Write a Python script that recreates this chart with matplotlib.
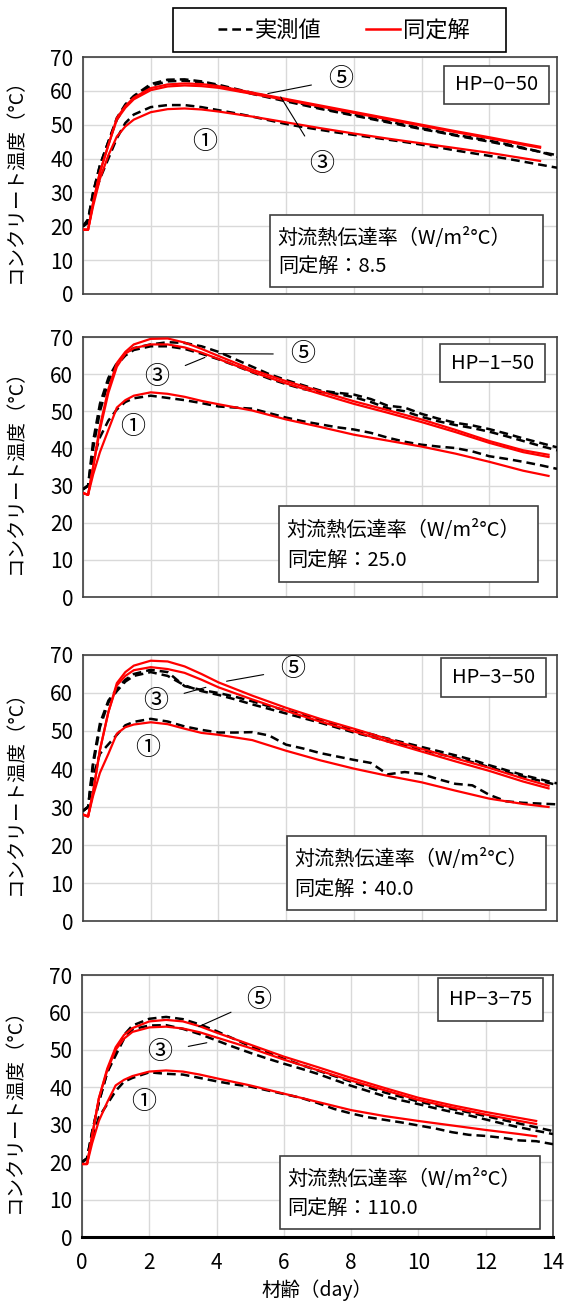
import matplotlib
matplotlib.use("Agg")
import matplotlib.pyplot as plt
from matplotlib.lines import Line2D
from matplotlib.patches import Rectangle

plt.rcParams['font.family'] = ['Noto Sans CJK JP', 'DejaVu Sans']

# 時間軸（日）
sim_days_a = [0, 0.15, 0.3, 0.5, 0.75, 1, 1.25, 1.5, 2, 2.5, 3, 3.5, 4, 5, 6, 7, 8, 9, 10, 11, 12, 13, 13.5]
sim_days_b = [0, 0.15, 0.3, 0.5, 0.75, 1, 1.25, 1.5, 2, 2.5, 3, 3.5, 4, 5, 6, 7, 8, 9, 10, 11, 12, 13, 13.75]
meas_days = [0, 0.15, 0.3, 0.5, 0.75, 1, 1.25, 1.5, 2, 2.5, 3, 3.5, 4, 4.5, 5, 5.5, 6, 6.5, 7,
             7.5, 8, 8.5, 9, 9.5, 10, 10.5, 11, 11.5, 12, 12.5, 13, 13.5, 14]

# HP-0-50
p1_sim5 = [19, 19, 27, 36, 44, 52, 55.5, 58, 60.8, 61.9, 62.2, 62.0, 61.4, 59.5, 57.6, 55.7, 53.8, 51.9, 50.0, 48.1, 46.3, 44.4, 43.5]
p1_sim3 = [19, 19, 27, 36, 44, 51.5, 55, 57.5, 60.2, 61.3, 61.6, 61.4, 60.9, 59.1, 57.3, 55.4, 53.5, 51.6, 49.7, 47.8, 46.0, 44.1, 43.2]
p1_sim1 = [19, 19, 26, 34, 41, 46.5, 49.5, 51.5, 53.7, 54.6, 54.8, 54.5, 53.9, 52.4, 50.7, 49.0, 47.4, 45.9, 44.5, 43.1, 41.7, 40.1, 39.3]
p1_meas5 = [20, 22, 30, 38, 45, 52, 56, 58.5, 62, 63.3, 63.4, 62.8, 61.8, 60.6, 59.4, 58.3, 57.2, 56.1, 55, 54,
            53, 52, 51, 50, 49, 48, 47, 46.2, 45.3, 44.3, 43.2, 42, 40.5]
p1_meas3 = [20, 22, 30, 38, 45, 51.5, 55.5, 58, 61.5, 62.8, 63, 62.4, 61.5, 60.3, 59.1, 58, 56.9, 55.8, 54.7, 53.7,
            52.7, 51.7, 50.7, 49.7, 48.7, 47.8, 46.8, 45.9, 45, 44, 43, 42, 41]
p1_meas1 = [20, 21, 28, 34, 40, 46, 50.5, 53, 55.2, 55.8, 55.8, 55.2, 54.3, 53.4, 52.4, 51.3, 50.2, 49.3, 48.5, 47.7,
            47, 46.3, 45.6, 44.9, 44.1, 43.3, 42.4, 41.6, 40.8, 40, 39.1, 38.2, 37.3]

# HP-1-50
p2_sim5 = [28, 27.5, 35, 46, 56, 63, 66, 68, 69.5, 69.6, 68.5, 66.8, 64.9, 61.2, 58.1, 55.4, 52.7, 50.3, 47.8, 45.0, 42.0, 39.5, 38.3]
p2_sim3 = [28, 27.5, 35, 45, 55, 62, 65.5, 67, 68, 68, 67.2, 65.8, 64.1, 60.6, 57.5, 54.7, 52.0, 49.6, 47.1, 44.4, 41.5, 39.0, 37.7]
p2_sim1 = [28, 27.5, 33, 39, 45, 51, 53, 54.2, 55.1, 54.7, 53.9, 52.8, 51.9, 50.2, 47.8, 45.8, 43.7, 42.1, 40.5, 38.6, 36.4, 34.0, 32.6]
p2_meas5 = [29, 30, 42, 52, 59, 63, 65.5, 67, 68, 68.6, 68.4, 67.5, 66, 64, 62, 60, 58.4, 57, 55.6, 55,
            54.5, 53.3, 51.5, 51, 49.3, 48, 46.9, 46.2, 45.2, 44, 42.7, 41.5, 40.3]
p2_meas3 = [29, 30, 40, 50, 58, 62.5, 65, 66.5, 67.5, 67.5, 66.8, 65.5, 64, 62.3, 60.5, 58.8, 57.3, 56, 55.2, 54.7,
            53.8, 52.5, 50.8, 50, 48.5, 47.3, 46.3, 45.5, 44.5, 43.3, 42, 40.7, 39.5]
p2_meas1 = [29, 30, 37, 43, 47.5, 50.5, 52.5, 53.5, 54.2, 53.6, 53, 52.2, 51.3, 51, 50.7, 49.5, 48.3, 47.3, 46.5, 45.7,
            45.1, 44.2, 42.9, 41.8, 41, 40.5, 40.1, 39.2, 37.9, 37.2, 36.4, 35.5, 34.5]

# HP-3-50
p3_sim5 = [28, 27.5, 34, 45, 55, 62.6, 65.5, 67.2, 68.5, 68.3, 67, 65, 62.8, 59.3, 56.1, 53.2, 50.6, 47.9, 45.3, 42.8, 40.3, 37.5, 35.6]
p3_sim3 = [28, 27.5, 34, 45, 55, 62, 64.5, 66, 66.8, 66.3, 65.3, 63.5, 61.5, 58.3, 55.3, 52.5, 49.9, 47.2, 44.6, 42.0, 39.5, 36.7, 34.9]
p3_sim1 = [28, 27.5, 33, 39, 44, 49.3, 51, 51.7, 52.3, 51.8, 50.6, 49.5, 49.0, 47.6, 44.8, 42.3, 40.1, 38.2, 36.5, 34.3, 32.2, 30.8, 30.0]
p3_meas5 = [29, 30, 42, 52, 58, 61, 63.5, 65, 66.1, 65.5, 61.8, 60.8, 60, 59, 57.8, 56.5, 55.4, 54.2, 53, 51.6,
            50.3, 49.2, 48, 46.9, 45.8, 44.7, 43.6, 42.4, 41, 39.7, 38.4, 37.3, 36.2]
p3_meas3 = [29, 30, 41, 51, 57.5, 60.5, 63, 64.5, 65.5, 64.5, 62, 60.5, 59.5, 58.3, 57, 55.8, 54.6, 53.4, 52.2, 50.9,
            49.6, 48.5, 47.3, 46.2, 45.1, 44, 43, 41.8, 40.5, 39.2, 38, 36.9, 35.8]
p3_meas1 = [29, 30, 38, 44, 46.5, 49, 51.5, 52.4, 53.2, 52.5, 51.2, 50.3, 49.6, 49.6, 49.7, 48.8, 46.4, 45.4, 44.2, 43.3,
            42.4, 41.6, 38.6, 39.2, 38.7, 37.3, 36.1, 35.7, 33.2, 31.5, 31.1, 30.9, 30.7]

# HP-3-75
p4_sim5 = [19.5, 19.5, 27, 37, 45, 50.7, 54, 55.8, 57.6, 58, 57.6, 56.3, 54.6, 51.4, 48.2, 45.4, 42.5, 39.8, 37.2, 35.2, 33.4, 31.8, 31.0]
p4_sim3 = [19.5, 19.5, 27, 37, 44.5, 50, 53, 54.8, 56, 56.2, 55.7, 54.7, 53.3, 50.5, 47.4, 44.6, 41.8, 39.2, 36.6, 34.6, 32.7, 31.0, 30.2]
p4_sim1 = [19.5, 19.5, 25, 31, 36, 40.5, 42, 43, 44.2, 44.5, 44.2, 43.4, 42.4, 40.5, 38.3, 36.1, 33.9, 32.3, 31.0, 29.8, 28.6, 27.5, 26.9]
p4_meas5 = [20, 21, 28, 36, 44, 49.5, 54, 56.5, 58.3, 58.8, 58.2, 56.8, 55, 53, 51, 49.3, 47.6, 46, 44.5, 43,
            41.5, 40, 38.6, 37.4, 36.2, 35.2, 34.2, 33.3, 32.3, 31.3, 30.3, 29.3, 28.3]
p4_meas3 = [20, 21, 28, 36, 44, 48.5, 53, 55.5, 56.5, 56.6, 55.6, 54.2, 52.5, 50.8, 49.2, 47.7, 46.3, 45, 43.6, 42,
            40.4, 39, 37.6, 36.5, 35.5, 34.4, 33.4, 32.5, 31.4, 30.3, 29.3, 28.4, 27.5]
p4_meas1 = [20, 21, 26, 32, 35.5, 39, 41.5, 42.5, 44, 43.6, 43.4, 42.5, 41.6, 40.8, 40.2, 39.2, 38.2, 37.2, 35.8, 34.2,
            33, 32, 31.3, 30.6, 29.8, 29, 28, 27.3, 27, 26.5, 25.8, 25.6, 24.8]

panel_names = ['HP−0−50', 'HP−1−50', 'HP−3−50', 'HP−3−75']
h_values = ['8.5', '25.0', '40.0', '110.0']
y_ticks = [0, 10, 20, 30, 40, 50, 60, 70]
x_ticks = [0, 2, 4, 6, 8, 10, 12, 14]

W, H = 572, 1302
fig = plt.figure(figsize=(W / 100, H / 100), dpi=100)

# 各パネルの配置（ピクセル）: left, right, top, bottom
frames = [(83, 557, 57, 294), (83, 557, 337, 597), (83, 557, 655, 921), (82, 553, 975, 1237)]
name_boxes = [(0.762, 0.983, 0.802, 0.962), (0.753, 0.975, 0.827, 0.973),
              (0.755, 0.977, 0.842, 0.989), (0.756, 0.979, 0.824, 0.989)]
info_boxes = [(0.395, 0.970, 0.030, 0.333), (0.414, 0.960, 0.058, 0.350),
              (0.430, 0.977, 0.041, 0.320), (0.420, 0.972, 0.031, 0.309)]
labels_pos = [
    [((7.6, 63.4), (5.46, 59.2)), ((7.05, 38.5), (5.84, 58.2)), ((3.6, 44.9), None)],
    [((6.48, 65.4), (4.0, 65.5)), ((2.19, 59.2), (3.6, 64.5)), ((1.47, 45.8), None)],
    [((6.19, 66.2), (4.24, 63.1)), ((2.14, 57.8), (3.63, 61.5)), ((1.9, 45.6), None)],
    [((5.26, 63.4), (3.47, 56.2)), ((2.3, 49.4), (3.71, 51.9)), ((1.84, 36.2), None)],
]

panels = [
    (sim_days_a, [p1_sim5, p1_sim3, p1_sim1], [p1_meas5, p1_meas3, p1_meas1]),
    (sim_days_b, [p2_sim5, p2_sim3, p2_sim1], [p2_meas5, p2_meas3, p2_meas1]),
    (sim_days_b, [p3_sim5, p3_sim3, p3_sim1], [p3_meas5, p3_meas3, p3_meas1]),
    (sim_days_a, [p4_sim5, p4_sim3, p4_sim1], [p4_meas5, p4_meas3, p4_meas1]),
]

for i, (sdays, sims, meas) in enumerate(panels):
    l, r, t, b = frames[i]
    ax = fig.add_axes([l / W, 1 - b / H, (r - l) / W, (b - t) / H])
    for m in meas:
        ax.plot(meas_days, m, color='black', lw=1.8, ls=(0, (3.5, 2)), zorder=3)
    for s in sims:
        ax.plot(sdays, s, color='#ff0000', lw=1.6, zorder=4)

    ax.set_xlim(0, 14)
    ax.set_ylim(0, 70)
    ax.set_xticks(x_ticks)
    ax.set_yticks(y_ticks)
    ax.grid(True, color='#d9d9d9', lw=1)
    ax.set_axisbelow(True)
    ax.tick_params(length=0, labelsize=15, pad=7)
    for sp in ax.spines.values():
        sp.set_color('#404040')
        sp.set_linewidth(1.2)
    if i < 3:
        ax.set_xticklabels([])
    else:
        ax.spines['bottom'].set_color('black')
        ax.spines['bottom'].set_linewidth(2.2)
        ax.tick_params(axis='x', pad=11)
        ax.set_xlabel('材齢（day）', fontsize=14, labelpad=4)
    ax.set_ylabel('コンクリート温度（°C）', fontsize=14)
    ax.yaxis.set_label_coords(-0.12, 0.5)

    # 試験体名
    x0, x1, y0, y1 = name_boxes[i]
    ax.add_patch(Rectangle((x0, y0), x1 - x0, y1 - y0, transform=ax.transAxes,
                           facecolor='white', edgecolor='#404040', lw=1.2, zorder=6))
    ax.text((x0 + x1) / 2, (y0 + y1) / 2, panel_names[i], transform=ax.transAxes,
            ha='center', va='center', fontsize=14.5, zorder=7)

    # 対流熱伝達率
    x0, x1, y0, y1 = info_boxes[i]
    ax.add_patch(Rectangle((x0, y0), x1 - x0, y1 - y0, transform=ax.transAxes,
                           facecolor='white', edgecolor='#404040', lw=1.2, zorder=6))
    ax.text(x0 + 0.016, y1 - 0.32 * (y1 - y0), '対流熱伝達率（W/m²°C）', transform=ax.transAxes,
            ha='left', va='center', fontsize=14.5, zorder=7)
    ax.text(x0 + 0.016, y1 - 0.72 * (y1 - y0), '同定解：' + h_values[i], transform=ax.transAxes,
            ha='left', va='center', fontsize=14.5, zorder=7)

    # 位置番号
    for lab, ((tx, ty), xy) in zip(['⑤', '③', '①'], labels_pos[i]):
        if xy is None:
            ax.text(tx, ty, lab, ha='center', va='center', fontsize=18, zorder=8)
        else:
            ax.annotate(lab, xy=xy, xytext=(tx, ty), ha='center', va='center', fontsize=18,
                        arrowprops=dict(arrowstyle='-', color='black', lw=0.8, shrinkA=10, shrinkB=0),
                        zorder=8)

# 凡例（枠は別に描く）
fig.patches.append(Rectangle((173 / W, 1 - 52 / H), 333 / W, 44 / H, transform=fig.transFigure,
                             facecolor='white', edgecolor='black', lw=1.2))
handles = [Line2D([], [], color='black', lw=1.8, ls=(0, (3.5, 2))),
           Line2D([], [], color='#ff0000', lw=1.8)]
leg = fig.legend(handles, ['実測値', '同定解'], loc='center', ncol=2, fontsize=16,
                 bbox_to_anchor=(344 / W, 1 - 30 / H), frameon=False,
                 handlelength=1.5, handletextpad=0.15, columnspacing=2.0)

fig.savefig('out.png', dpi=100)
